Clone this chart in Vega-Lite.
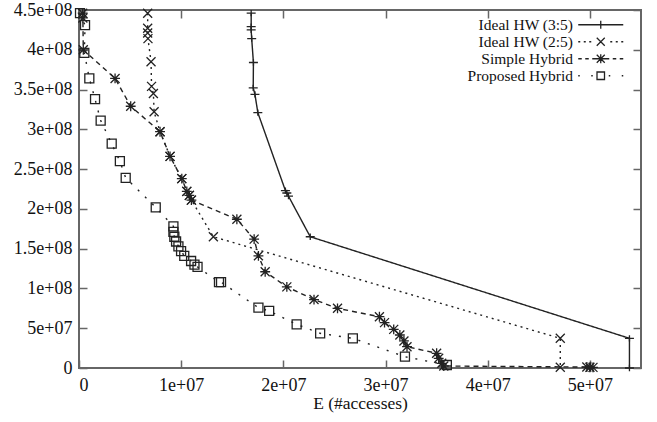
{
  "$schema": "https://vega.github.io/schema/vega-lite/v6.json",
  "width": 562,
  "height": 358,
  "autosize": {"type": "none"},
  "padding": {"left": 79, "top": 10, "right": 16, "bottom": 54},
  "background": "white",
  "config": {
    "font": "Liberation Serif",
    "view": {"stroke": "#666", "strokeWidth": 2},
    "axis": {"grid": false, "domain": false, "labelFontSize": 18, "labelColor": "#111", "titleFontSize": 17.5, "titleFontWeight": "normal", "titleColor": "#111", "tickSize": -8, "tickColor": "#666", "tickWidth": 1.5}
  },
  "datasets": {
    "curves": [
      {"s": "Ideal HW (3:5)", "i": 0, "x": 16850000, "y": 446000000},
      {"s": "Ideal HW (3:5)", "i": 1, "x": 16850000, "y": 429000000},
      {"s": "Ideal HW (3:5)", "i": 2, "x": 16850000, "y": 425000000},
      {"s": "Ideal HW (3:5)", "i": 3, "x": 16900000, "y": 414000000},
      {"s": "Ideal HW (3:5)", "i": 4, "x": 17070000, "y": 384000000},
      {"s": "Ideal HW (3:5)", "i": 5, "x": 17050000, "y": 352000000},
      {"s": "Ideal HW (3:5)", "i": 6, "x": 17220000, "y": 344000000},
      {"s": "Ideal HW (3:5)", "i": 7, "x": 17500000, "y": 321000000},
      {"s": "Ideal HW (3:5)", "i": 8, "x": 20200000, "y": 223000000},
      {"s": "Ideal HW (3:5)", "i": 9, "x": 20340000, "y": 220000000},
      {"s": "Ideal HW (3:5)", "i": 10, "x": 20500000, "y": 216000000},
      {"s": "Ideal HW (3:5)", "i": 11, "x": 22630000, "y": 165000000},
      {"s": "Ideal HW (3:5)", "i": 12, "x": 53870000, "y": 37300000},
      {"s": "Ideal HW (3:5)", "i": 13, "x": 53870000, "y": 0},

      {"s": "Ideal HW (2:5)", "i": 0, "x": 6720000, "y": 446000000},
      {"s": "Ideal HW (2:5)", "i": 1, "x": 6720000, "y": 427000000},
      {"s": "Ideal HW (2:5)", "i": 2, "x": 6720000, "y": 421000000},
      {"s": "Ideal HW (2:5)", "i": 3, "x": 6750000, "y": 414000000},
      {"s": "Ideal HW (2:5)", "i": 4, "x": 7050000, "y": 385000000},
      {"s": "Ideal HW (2:5)", "i": 5, "x": 7100000, "y": 354000000},
      {"s": "Ideal HW (2:5)", "i": 6, "x": 7280000, "y": 345000000},
      {"s": "Ideal HW (2:5)", "i": 7, "x": 7350000, "y": 322000000},
      {"s": "Ideal HW (2:5)", "i": 8, "x": 7930000, "y": 297000000},
      {"s": "Ideal HW (2:5)", "i": 9, "x": 8910000, "y": 266000000},
      {"s": "Ideal HW (2:5)", "i": 10, "x": 10060000, "y": 238000000},
      {"s": "Ideal HW (2:5)", "i": 11, "x": 10550000, "y": 222000000},
      {"s": "Ideal HW (2:5)", "i": 12, "x": 10800000, "y": 217000000},
      {"s": "Ideal HW (2:5)", "i": 13, "x": 11000000, "y": 211000000},
      {"s": "Ideal HW (2:5)", "i": 14, "x": 13150000, "y": 165000000},
      {"s": "Ideal HW (2:5)", "i": 15, "x": 47100000, "y": 37300000},
      {"s": "Ideal HW (2:5)", "i": 16, "x": 47100000, "y": 1000000},

      {"s": "Simple Hybrid", "i": 0, "x": 360000, "y": 446000000},
      {"s": "Simple Hybrid", "i": 1, "x": 380000, "y": 440000000},
      {"s": "Simple Hybrid", "i": 2, "x": 420000, "y": 400000000},
      {"s": "Simple Hybrid", "i": 3, "x": 3530000, "y": 364000000},
      {"s": "Simple Hybrid", "i": 4, "x": 5060000, "y": 329000000},
      {"s": "Simple Hybrid", "i": 5, "x": 7930000, "y": 297000000},
      {"s": "Simple Hybrid", "i": 6, "x": 8910000, "y": 266000000},
      {"s": "Simple Hybrid", "i": 7, "x": 10060000, "y": 238000000},
      {"s": "Simple Hybrid", "i": 8, "x": 10550000, "y": 222000000},
      {"s": "Simple Hybrid", "i": 9, "x": 10800000, "y": 217000000},
      {"s": "Simple Hybrid", "i": 10, "x": 11000000, "y": 211000000},
      {"s": "Simple Hybrid", "i": 11, "x": 15450000, "y": 187000000},
      {"s": "Simple Hybrid", "i": 12, "x": 17140000, "y": 162000000},
      {"s": "Simple Hybrid", "i": 13, "x": 17560000, "y": 141000000},
      {"s": "Simple Hybrid", "i": 14, "x": 18220000, "y": 121000000},
      {"s": "Simple Hybrid", "i": 15, "x": 20340000, "y": 102000000},
      {"s": "Simple Hybrid", "i": 16, "x": 23000000, "y": 86000000},
      {"s": "Simple Hybrid", "i": 17, "x": 25300000, "y": 75000000},
      {"s": "Simple Hybrid", "i": 18, "x": 29400000, "y": 64500000},
      {"s": "Simple Hybrid", "i": 19, "x": 29900000, "y": 57000000},
      {"s": "Simple Hybrid", "i": 20, "x": 30800000, "y": 48600000},
      {"s": "Simple Hybrid", "i": 21, "x": 31400000, "y": 41500000},
      {"s": "Simple Hybrid", "i": 22, "x": 31800000, "y": 34000000},
      {"s": "Simple Hybrid", "i": 23, "x": 32100000, "y": 26800000},
      {"s": "Simple Hybrid", "i": 24, "x": 35000000, "y": 18500000},
      {"s": "Simple Hybrid", "i": 25, "x": 35200000, "y": 12200000},
      {"s": "Simple Hybrid", "i": 26, "x": 35500000, "y": 5900000},
      {"s": "Simple Hybrid", "i": 27, "x": 35700000, "y": 2500000},
      {"s": "Simple Hybrid", "i": 28, "x": 49700000, "y": 1200000},
      {"s": "Simple Hybrid", "i": 29, "x": 50000000, "y": 1000000},
      {"s": "Simple Hybrid", "i": 30, "x": 50300000, "y": 800000},

      {"s": "Proposed Hybrid", "i": 0, "x": 100000, "y": 446000000},
      {"s": "Proposed Hybrid", "i": 1, "x": 590000, "y": 431000000},
      {"s": "Proposed Hybrid", "i": 2, "x": 520000, "y": 396000000},
      {"s": "Proposed Hybrid", "i": 3, "x": 1010000, "y": 364000000},
      {"s": "Proposed Hybrid", "i": 4, "x": 1570000, "y": 338000000},
      {"s": "Proposed Hybrid", "i": 5, "x": 2120000, "y": 311000000},
      {"s": "Proposed Hybrid", "i": 6, "x": 3200000, "y": 282000000},
      {"s": "Proposed Hybrid", "i": 7, "x": 4000000, "y": 260000000},
      {"s": "Proposed Hybrid", "i": 8, "x": 4570000, "y": 239000000},
      {"s": "Proposed Hybrid", "i": 9, "x": 7510000, "y": 202000000},
      {"s": "Proposed Hybrid", "i": 10, "x": 9240000, "y": 178000000},
      {"s": "Proposed Hybrid", "i": 11, "x": 9240000, "y": 171000000},
      {"s": "Proposed Hybrid", "i": 12, "x": 9330000, "y": 165000000},
      {"s": "Proposed Hybrid", "i": 13, "x": 9500000, "y": 159000000},
      {"s": "Proposed Hybrid", "i": 14, "x": 9730000, "y": 153000000},
      {"s": "Proposed Hybrid", "i": 15, "x": 9990000, "y": 147000000},
      {"s": "Proposed Hybrid", "i": 16, "x": 10300000, "y": 141000000},
      {"s": "Proposed Hybrid", "i": 17, "x": 10970000, "y": 134500000},
      {"s": "Proposed Hybrid", "i": 18, "x": 11300000, "y": 130000000},
      {"s": "Proposed Hybrid", "i": 19, "x": 11600000, "y": 127000000},
      {"s": "Proposed Hybrid", "i": 20, "x": 13700000, "y": 108000000},
      {"s": "Proposed Hybrid", "i": 21, "x": 13900000, "y": 108000000},
      {"s": "Proposed Hybrid", "i": 22, "x": 17560000, "y": 75800000},
      {"s": "Proposed Hybrid", "i": 23, "x": 18610000, "y": 71700000},
      {"s": "Proposed Hybrid", "i": 24, "x": 21300000, "y": 54900000},
      {"s": "Proposed Hybrid", "i": 25, "x": 23600000, "y": 43600000},
      {"s": "Proposed Hybrid", "i": 26, "x": 26800000, "y": 37300000},
      {"s": "Proposed Hybrid", "i": 27, "x": 31900000, "y": 14200000},
      {"s": "Proposed Hybrid", "i": 28, "x": 36000000, "y": 3800000}
    ]
  },
  "data": {"name": "curves"},
  "layer": [
    {
      "mark": {"type": "line", "strokeWidth": 1.4, "color": "#222"},
      "encoding": {
        "x": {
          "field": "x", "type": "quantitative",
          "scale": {"domain": [0, 55000000], "nice": false, "zero": false},
          "axis": {
            "orient": "bottom",
            "title": "E (#accesses)",
            "values": [0, 10000000, 20000000, 30000000, 40000000, 50000000],
            "labelExpr": "datum.value == 0 ? '0' : replace(format(datum.value, '~e'), 'e+', 'e+0')",
            "labelPadding": 16,
            "titlePadding": 0
          }
        },
        "y": {
          "field": "y", "type": "quantitative",
          "scale": {"domain": [0, 450000000], "nice": false, "zero": false},
          "axis": {
            "orient": "left",
            "title": null,
            "values": [0, 50000000, 100000000, 150000000, 200000000, 250000000, 300000000, 350000000, 400000000, 450000000],
            "labelExpr": "datum.value == 0 ? '0' : replace(format(datum.value, '~e'), 'e+', 'e+0')",
            "labelPadding": 15
          }
        },
        "detail": {"field": "s", "type": "nominal"},
        "order": {"field": "i", "type": "quantitative"},
        "strokeDash": {
          "field": "s", "type": "nominal",
          "scale": {
            "domain": ["Ideal HW (3:5)", "Ideal HW (2:5)", "Simple Hybrid", "Proposed Hybrid"],
            "range": [[1, 0], [2, 4], [5, 4], [2, 8]]
          },
          "legend": null
        }
      }
    },
    {
      "mark": {"type": "point", "filled": false, "color": "#222", "strokeWidth": 1.3, "opacity": 1},
      "encoding": {
        "x": {
          "field": "x", "type": "quantitative",
          "axis": {"orient": "top", "labels": false, "title": null, "values": [0, 10000000, 20000000, 30000000, 40000000, 50000000]}
        },
        "y": {
          "field": "y", "type": "quantitative",
          "axis": {"orient": "right", "labels": false, "title": null, "values": [0, 50000000, 100000000, 150000000, 200000000, 250000000, 300000000, 350000000, 400000000, 450000000]}
        },
        "shape": {
          "field": "s", "type": "nominal",
          "scale": {
            "domain": ["Ideal HW (3:5)", "Ideal HW (2:5)", "Simple Hybrid", "Proposed Hybrid"],
            "range": ["M-1,0H1M0,-0.7V0.7", "M-1,-1L1,1M-1,1L1,-1", "M-1,-1L1,1M-1,1L1,-1M-1.1,0H1.1M0,-1.1V1.1", "M-1,-1H1V1H-1Z"]
          },
          "legend": null
        },
        "size": {"value": 81}
      }
    },
    {
      "transform": [{"filter": "false"}],
      "mark": {"type": "point", "filled": false, "color": "#222", "strokeWidth": 1.3},
      "encoding": {
        "shape": {
          "field": "s", "type": "nominal",
          "scale": {
            "domain": ["Ideal HW (3:5)", "Ideal HW (2:5)", "Simple Hybrid", "Proposed Hybrid"],
            "range": [
              "M-4.5,0H4.5M0,-0.8V0.8",
              "M-4.5,0h0.4M-3.4,0h0.4M-2.3,0h0.4M-0.8,-0.8L0.8,0.8M-0.8,0.8L0.8,-0.8M1.9,0h0.4M3.0,0h0.4M4.1,0h0.4",
              "M-4.5,0h0.7M-3.1,0h0.7M-1.7,0h0.9M0.8,0h0.9M2.4,0h0.7M3.8,0h0.7M-0.8,-0.8L0.8,0.8M-0.8,0.8L0.8,-0.8M-0.9,0H0.9M0,-0.9V0.9",
              "M-4.5,0h0.3M-1.9,0h0.3M-0.75,-0.75H0.75V0.75H-0.75ZM1.6,0h0.3M4.2,0h0.3"
            ]
          },
          "legend": {
            "title": null,
            "orient": "none",
            "legendX": 514,
            "legendY": 7,
            "padding": 0,
            "labelAlign": "right",
            "labelOffset": -35.5,
            "labelLimit": 300,
            "labelFontSize": 15.5,
            "labelColor": "#111",
            "symbolSize": 100,
            "symbolStrokeColor": "#222",
            "symbolStrokeWidth": 1.3,
            "symbolFillColor": "transparent",
            "symbolOpacity": 1,
            "rowPadding": 0
          }
        }
      }
    }
  ],
  "resolve": {
    "scale": {"shape": "independent"},
    "axis": {"x": "independent", "y": "independent"}
  }
}
